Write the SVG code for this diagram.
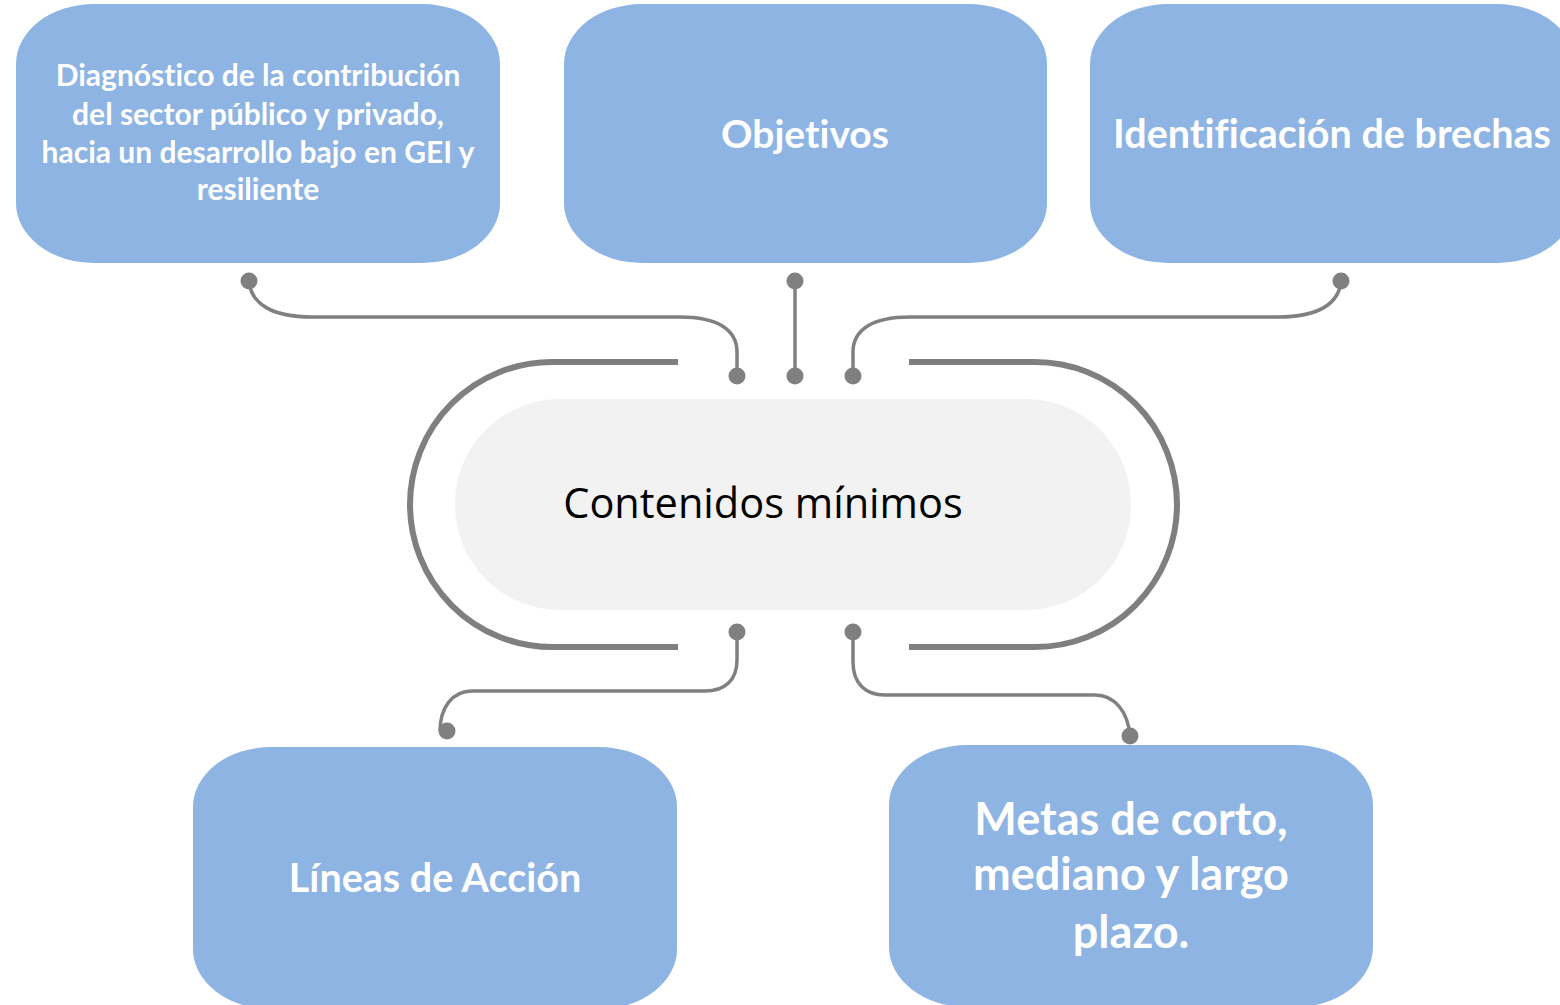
<svg xmlns="http://www.w3.org/2000/svg" width="1560" height="1005" viewBox="0 0 1560 1005">
<defs>
<style>
.box{fill:#8eb4e3;}
.lbl{fill:#ffffff;font-family:Lato,"Liberation Sans",sans-serif;font-weight:bold;text-anchor:middle;font-variant-ligatures:none;}
.conn{fill:none;stroke:#808080;stroke-width:3.5;}
.ring{fill:none;stroke:#7f7f7f;stroke-width:6;}
.dot{fill:#808080;}
</style>
</defs>
<rect width="1560" height="1005" fill="#ffffff"/>
<g id="n-diagnostico">
<rect class="box" x="16" y="4" width="484" height="259" rx="78" ry="60"/>
<text class="lbl" font-size="30" x="258"><tspan x="258" y="86">Diagnóstico de la contribución</tspan><tspan x="258" y="125">del sector público y privado,</tspan><tspan x="258" y="163">hacia un desarrollo bajo en GEI y</tspan><tspan x="258" y="200">resiliente</tspan></text>
</g>
<g id="n-objetivos">
<rect class="box" x="564" y="4" width="483" height="259" rx="78" ry="60"/>
<text class="lbl" font-size="39" x="805" y="148">Objetivos</text>
</g>
<g id="n-brechas">
<rect class="box" x="1090" y="4" width="485" height="259" rx="78" ry="60"/>
<text class="lbl" font-size="39.5" x="1332" y="148">Identificación de brechas</text>
</g>
<g id="n-centro">
<rect x="455" y="399" width="676" height="211" rx="105" ry="105" fill="#f2f2f2"/>
<path class="ring" d="M678,362 H552 A142,142.5 0 0 0 552,647 H678"/>
<path class="ring" d="M909,362 H1035 A142,142.5 0 0 1 1035,647 H909"/>
<text x="763" y="518" font-size="41.5" font-family="'Open Sans','Liberation Sans',sans-serif" text-anchor="middle" fill="#000000">Contenidos mínimos</text>
</g>
<g id="n-lineas">
<rect class="box" x="193" y="747" width="484" height="262" rx="78" ry="60"/>
<text class="lbl" font-size="39.5" x="435" y="892">Líneas de Acción</text>
</g>
<g id="n-metas">
<rect class="box" x="889" y="745" width="484" height="262" rx="78" ry="60"/>
<text class="lbl" font-size="45" x="1131"><tspan x="1131" y="835">Metas de corto,</tspan><tspan x="1131" y="890">mediano y largo</tspan><tspan x="1131" y="948">plazo.</tspan></text>
</g>
<g id="connectors">
<path class="conn" d="M249,281 C251,304 272,317 312,317 H680 C718,317 737,330 737,352 V376"/>
<circle class="dot" cx="249" cy="281" r="8.5"/>
<circle class="dot" cx="737" cy="376" r="8.5"/>
<path class="conn" d="M795,281 V376"/>
<circle class="dot" cx="795" cy="281" r="8.5"/>
<circle class="dot" cx="795" cy="376" r="8.5"/>
<path class="conn" d="M1341,281 C1339,304 1318,317 1278,317 H910 C872,317 853,330 853,352 V376"/>
<circle class="dot" cx="1341" cy="281" r="8.5"/>
<circle class="dot" cx="853" cy="376" r="8.5"/>
<path class="conn" d="M737,632 V660 C737,680 725,691 705,691 H472 C452,691 440,708 440,731"/>
<circle class="dot" cx="737" cy="632" r="8.5"/>
<circle class="dot" cx="447" cy="731" r="8.5"/>
<path class="conn" d="M853,632 V662 C853,684 866,695 885,695 H1095 C1115,695 1128,712 1130,736"/>
<circle class="dot" cx="853" cy="632" r="8.5"/>
<circle class="dot" cx="1130" cy="736" r="8.5"/>
</g>
</svg>
